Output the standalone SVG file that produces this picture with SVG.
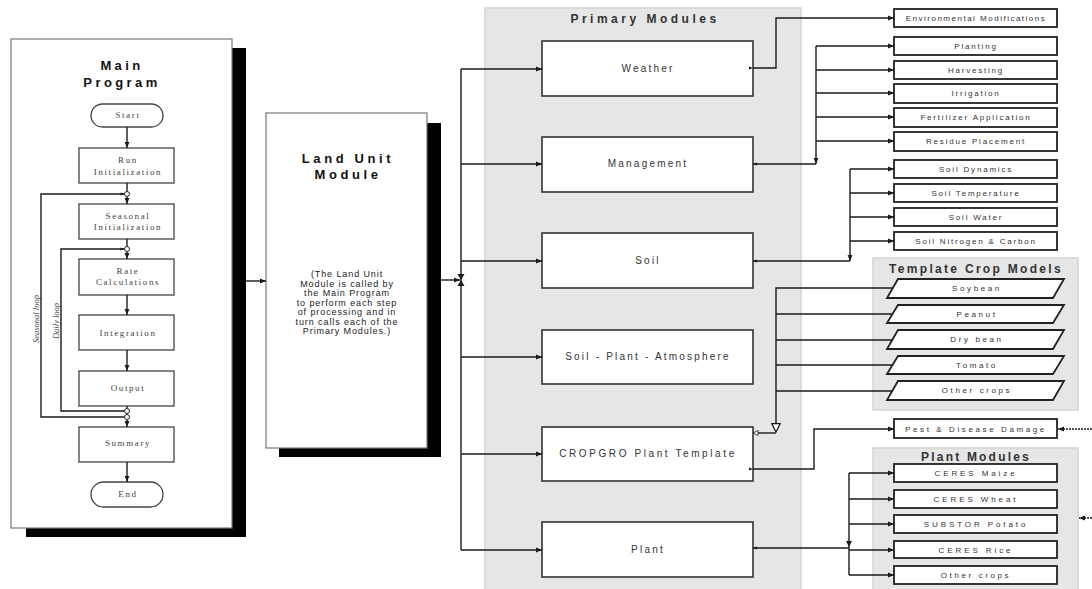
<svg xmlns="http://www.w3.org/2000/svg" width="1092" height="589" viewBox="0 0 1092 589">
<style>
.sh{fill:#000}
.big{fill:#fff;stroke:#777;stroke-width:1.2}
.fc{fill:#fff;stroke:#444;stroke-width:1.3}
.pm{fill:#fff;stroke:#333;stroke-width:1.6}
.rb{fill:#fff;stroke:#222;stroke-width:1.8}
.panel{fill:#e6e6e6;stroke:#d3d3d3;stroke-width:1.5}
.ln{fill:none;stroke:#1a1a1a;stroke-width:1.4}
.dash{fill:none;stroke:#1a1a1a;stroke-width:1.4;stroke-dasharray:2 1}
.jc{fill:#fff;stroke:#222;stroke-width:1}
text{font-family:"Liberation Sans",Arial,sans-serif;text-anchor:middle}
.ttl{font-size:13px;font-weight:bold;fill:#111;letter-spacing:3.4px}
.ser{font-family:"Liberation Serif","Times New Roman",serif;font-size:9px;fill:#444;letter-spacing:1.6px}
.loop{font-family:"Liberation Serif","Times New Roman",serif;font-size:8.5px;font-style:italic;fill:#444}
.par{font-size:9px;fill:#222;letter-spacing:0.9px}
.ptl{font-size:12px;font-weight:bold;fill:#333}
.ml{font-size:10px;fill:#333;letter-spacing:2.2px}
.rl{font-size:8px;fill:#333;letter-spacing:1.8px}
.cl{font-size:8px;fill:#333;letter-spacing:2.6px}
</style>
<defs>
<marker id="ah" viewBox="0 0 10 10" refX="10" refY="5" markerWidth="7" markerHeight="6" markerUnits="userSpaceOnUse" orient="auto-start-reverse"><path d="M0,1 L10,5 L0,9 Z" fill="#1a1a1a"/></marker>
<marker id="as" viewBox="0 0 10 10" refX="10" refY="5" markerWidth="5" markerHeight="4" markerUnits="userSpaceOnUse" orient="auto"><path d="M0,1 L10,5 L0,9 Z" fill="#1a1a1a"/></marker>
<marker id="ot" viewBox="0 0 12 12" refX="11" refY="6" markerWidth="10" markerHeight="10" markerUnits="userSpaceOnUse" orient="auto"><path d="M1,1 L11,6 L1,11 Z" fill="#fff" stroke="#1a1a1a" stroke-width="1.5"/></marker>
<marker id="os" viewBox="0 0 12 12" refX="11" refY="6" markerWidth="7" markerHeight="6" markerUnits="userSpaceOnUse" orient="auto"><path d="M1,1 L11,6 L1,11 Z" fill="#fff" stroke="#1a1a1a" stroke-width="1.5"/></marker>
</defs>

<!-- panels -->
<rect class="panel" x="485" y="8" width="316" height="590"/>
<rect class="panel" x="873" y="258" width="205" height="152"/>
<rect class="panel" x="873" y="448" width="205" height="150"/>
<text class="ptl" x="645" y="23" style="letter-spacing:3.5px">Primary Modules</text>
<text class="ptl" x="976" y="273" style="letter-spacing:2.3px">Template Crop Models</text>
<text class="ptl" x="976" y="461" style="letter-spacing:2.2px">Plant Modules</text>

<!-- Main Program -->
<g id="main-program">
<rect class="sh" x="26" y="48" width="220" height="489"/>
<rect class="big" x="11" y="39" width="221" height="489"/>
<text class="ttl" x="122" y="70">Main</text>
<text class="ttl" x="122" y="87">Program</text>
<text class="loop" transform="translate(39,319) rotate(-90)">Seasonal loop</text>
<text class="loop" transform="translate(59,321) rotate(-90)">Daily loop</text>
</g>
<g id="mp-start"><rect class="fc" x="91" y="104" width="72" height="23" rx="11.5"/><text class="ser" x="128" y="118">Start</text></g>
<g id="mp-run-init"><rect class="fc" x="79" y="148" width="95" height="35"/><text class="ser" x="128" y="163">Run</text><text class="ser" x="128" y="175">Initialization</text></g>
<g id="mp-seasonal-init"><rect class="fc" x="79" y="204" width="95" height="35"/><text class="ser" x="128" y="219">Seasonal</text><text class="ser" x="128" y="230">Initialization</text></g>
<g id="mp-rate"><rect class="fc" x="79" y="259" width="95" height="36"/><text class="ser" x="128" y="274">Rate</text><text class="ser" x="128" y="285">Calculations</text></g>
<g id="mp-integration"><rect class="fc" x="79" y="315" width="95" height="35"/><text class="ser" x="128" y="336">Integration</text></g>
<g id="mp-output"><rect class="fc" x="79" y="371" width="95" height="35"/><text class="ser" x="128" y="391">Output</text></g>
<g id="mp-summary"><rect class="fc" x="79" y="427" width="95" height="35"/><text class="ser" x="128" y="446">Summary</text></g>
<g id="mp-end"><rect class="fc" x="91" y="482" width="72" height="25" rx="12.5"/><text class="ser" x="128" y="497">End</text></g>

<!-- Land Unit Module -->
<g id="land-unit">
<rect class="sh" x="279" y="123" width="162" height="334"/>
<rect class="big" x="266" y="113" width="161" height="335"/>
<text class="ttl" x="348" y="163" style="letter-spacing:3.6px">Land Unit</text>
<text class="ttl" x="348" y="179" style="letter-spacing:3.6px">Module</text>
<text class="par" x="347" y="277">(The Land Unit</text>
<text class="par" x="347" y="287">Module is called by</text>
<text class="par" x="347" y="296">the Main Program</text>
<text class="par" x="347" y="306">to perform each step</text>
<text class="par" x="347" y="315">of processing and in</text>
<text class="par" x="347" y="325">turn calls each of the</text>
<text class="par" x="347" y="334">Primary Modules.)</text>
</g>

<!-- Primary modules -->
<g id="weather"><rect class="pm" x="542" y="41" width="211" height="55"/><text class="ml" x="648" y="72">Weather</text></g>
<g id="management"><rect class="pm" x="542" y="137" width="211" height="55"/><text class="ml" x="648" y="167">Management</text></g>
<g id="soil"><rect class="pm" x="542" y="233" width="211" height="55"/><text class="ml" x="648" y="264">Soil</text></g>
<g id="spa"><rect class="pm" x="542" y="330" width="211" height="54"/><text class="ml" x="648" y="360">Soil - Plant - Atmosphere</text></g>
<g id="cropgro"><rect class="pm" x="542" y="427" width="211" height="54"/><text class="ml" x="648" y="457" style="letter-spacing:2.6px">CROPGRO Plant Template</text></g>
<g id="plant"><rect class="pm" x="542" y="522" width="211" height="55"/><text class="ml" x="648" y="553">Plant</text></g>

<!-- right boxes -->
<g id="env-mod"><rect class="rb" x="894" y="9" width="163" height="18"/><text class="rl" x="976" y="21" style="letter-spacing:1.5px">Environmental Modifications</text></g>
<g id="planting"><rect class="rb" x="894" y="37" width="163" height="18"/><text class="rl" x="976" y="49">Planting</text></g>
<g id="harvesting"><rect class="rb" x="894" y="61" width="163" height="18"/><text class="rl" x="976" y="73">Harvesting</text></g>
<g id="irrigation"><rect class="rb" x="894" y="84" width="163" height="19"/><text class="rl" x="976" y="96">Irrigation</text></g>
<g id="fertilizer"><rect class="rb" x="894" y="108" width="163" height="19"/><text class="rl" x="976" y="120">Fertilizer Application</text></g>
<g id="residue"><rect class="rb" x="894" y="132" width="163" height="19"/><text class="rl" x="976" y="144">Residue Placement</text></g>
<g id="soil-dyn"><rect class="rb" x="894" y="160" width="163" height="18"/><text class="rl" x="976" y="172">Soil Dynamics</text></g>
<g id="soil-temp"><rect class="rb" x="894" y="184" width="163" height="18"/><text class="rl" x="976" y="196">Soil Temperature</text></g>
<g id="soil-water"><rect class="rb" x="894" y="208" width="163" height="18"/><text class="rl" x="976" y="220">Soil Water</text></g>
<g id="soil-nc"><rect class="rb" x="894" y="232" width="163" height="18"/><text class="rl" x="976" y="244">Soil Nitrogen &amp; Carbon</text></g>

<!-- template crops -->
<g id="soybean"><polygon class="rb" points="898,279 1064,279 1053,298 887,298"/><text class="cl" x="977" y="291">Soybean</text></g>
<g id="peanut"><polygon class="rb" points="898,305 1064,305 1053,323 887,323"/><text class="cl" x="977" y="317">Peanut</text></g>
<g id="drybean"><polygon class="rb" points="898,330 1064,330 1053,349 887,349"/><text class="cl" x="977" y="342">Dry bean</text></g>
<g id="tomato"><polygon class="rb" points="898,356 1064,356 1053,374 887,374"/><text class="cl" x="977" y="368">Tomato</text></g>
<g id="other-template"><polygon class="rb" points="898,381 1064,381 1053,400 887,400"/><text class="cl" x="977" y="393">Other crops</text></g>

<g id="pest"><rect class="rb" x="894" y="419" width="163" height="19"/><text class="cl" x="976" y="432">Pest &amp; Disease Damage</text></g>

<!-- plant modules -->
<g id="ceres-maize"><rect class="rb" x="894" y="464" width="163" height="18"/><text class="cl" x="976" y="476" style="letter-spacing:2.9px">CERES Maize</text></g>
<g id="ceres-wheat"><rect class="rb" x="894" y="490" width="163" height="18"/><text class="cl" x="976" y="502" style="letter-spacing:2.9px">CERES Wheat</text></g>
<g id="substor"><rect class="rb" x="894" y="515" width="163" height="18"/><text class="cl" x="976" y="527" style="letter-spacing:2.9px">SUBSTOR Potato</text></g>
<g id="ceres-rice"><rect class="rb" x="894" y="541" width="163" height="17"/><text class="cl" x="976" y="553" style="letter-spacing:2.9px">CERES Rice</text></g>
<g id="other-plant"><rect class="rb" x="894" y="566" width="163" height="18"/><text class="cl" x="976" y="578">Other crops</text></g>

<!-- connectors -->
<g id="connectors">
<path class="ln" d="M127,127 V148" marker-end="url(#ah)"/>
<path class="ln" d="M127,183 V191.5"/>
<path class="ln" d="M127,196.5 V204" marker-end="url(#ah)"/>
<path class="ln" d="M127,239 V246.5"/>
<path class="ln" d="M127,251.5 V259" marker-end="url(#ah)"/>
<path class="ln" d="M127,295 V315" marker-end="url(#ah)"/>
<path class="ln" d="M127,350 V371" marker-end="url(#ah)"/>
<path class="ln" d="M127,406 V408.5"/>
<path class="ln" d="M127,413.5 V414.5"/>
<path class="ln" d="M127,419.5 V427" marker-end="url(#ah)"/>
<path class="ln" d="M127,462 V482" marker-end="url(#ah)"/>
<path class="ln" d="M124.5,417 H41 V194 H124.5" marker-end="url(#as)"/>
<path class="ln" d="M124.5,411 H61 V249 H124.5" marker-end="url(#as)"/>
<circle class="jc" cx="127" cy="194" r="2.5"/>
<circle class="jc" cx="127" cy="249" r="2.5"/>
<circle class="jc" cx="127" cy="411" r="2.5"/>
<circle class="jc" cx="127" cy="417" r="2.5"/>

<path class="ln" d="M246,281 H266" marker-end="url(#ah)"/>
<path class="ln" d="M441,280 H460" marker-end="url(#ah)"/>
<path class="ln" d="M461,69 V550"/>
<path d="M457.5,274 L464.5,274 L461,280 Z M457.5,286 L464.5,286 L461,280 Z" fill="#1a1a1a"/>
<path class="ln" d="M461,69 H542" marker-end="url(#ah)"/>
<path class="ln" d="M461,164 H542" marker-end="url(#ah)"/>
<path class="ln" d="M461,261 H542" marker-end="url(#ah)"/>
<path class="ln" d="M461,357 H542" marker-end="url(#ah)"/>
<path class="ln" d="M461,454 H542" marker-end="url(#ah)"/>
<path class="ln" d="M461,550 H542" marker-end="url(#ah)"/>

<path class="ln" d="M753,68 H776 V18 H894" marker-start="url(#as)" marker-end="url(#ah)"/>

<path class="ln" d="M816,164 H753" marker-end="url(#as)"/>
<path class="ln" d="M816,46 V164" marker-end="url(#ah)"/>
<path class="ln" d="M816,46 H894" marker-end="url(#ah)"/>
<path class="ln" d="M816,70 H894" marker-end="url(#ah)"/>
<path class="ln" d="M816,93 H894" marker-end="url(#ah)"/>
<path class="ln" d="M816,117 H894" marker-end="url(#ah)"/>
<path class="ln" d="M816,141 H894" marker-end="url(#ah)"/>

<path class="ln" d="M850,261 H753" marker-end="url(#as)"/>
<path class="ln" d="M850,169 V261" marker-end="url(#ah)"/>
<path class="ln" d="M850,169 H894" marker-end="url(#ah)"/>
<path class="ln" d="M850,193 H894" marker-end="url(#ah)"/>
<path class="ln" d="M850,217 H894" marker-end="url(#ah)"/>
<path class="ln" d="M850,241 H894" marker-end="url(#ah)"/>

<path class="ln" d="M892,288 H776 V432" marker-end="url(#ot)"/>
<path class="ln" d="M892,314 H776"/>
<path class="ln" d="M892,340 H776"/>
<path class="ln" d="M892,365 H776"/>
<path class="ln" d="M892,391 H776"/>
<path class="ln" d="M776,433 H753" marker-end="url(#os)"/>

<path class="ln" d="M753,469 H814 V429 H894" marker-start="url(#as)" marker-end="url(#ah)"/>
<path class="dash" d="M1092,429 H1058" marker-end="url(#ah)"/>
<path class="dash" d="M1092,518 H1079" marker-end="url(#ah)"/>

<path class="ln" d="M849,548 H753" marker-end="url(#as)"/>
<path class="ln" d="M849,473 V575"/>
<path d="M846,541 L852,541 L849,547 Z" fill="#1a1a1a"/>
<path class="ln" d="M849,473 H894" marker-end="url(#ah)"/>
<path class="ln" d="M849,499 H894" marker-end="url(#ah)"/>
<path class="ln" d="M849,524 H894" marker-end="url(#ah)"/>
<path class="ln" d="M849,550 H894" marker-end="url(#ah)"/>
<path class="ln" d="M849,575 H894" marker-end="url(#ah)"/>
</g>
</svg>
